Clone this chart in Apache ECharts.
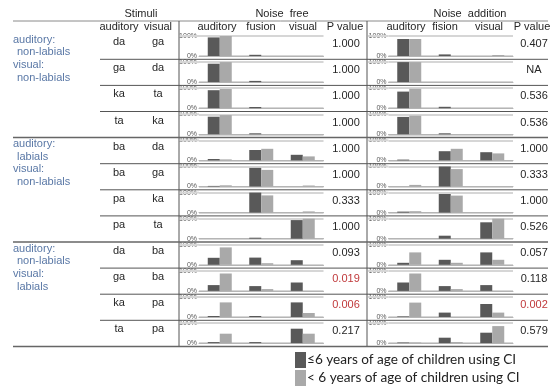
<!DOCTYPE html>
<html><head><meta charset="utf-8">
<script src="https://cdn.jsdelivr.net/npm/echarts@6/dist/echarts.min.js"></script>
<style>html,body{margin:0;padding:0;background:#fff}#chart{width:554px;height:389px}</style>
</head><body><div id="chart"></div>
<script>
// Response categories shown in every mini bar chart
const responseTypes = ['auditory', 'fusion', 'visual'];

// Stimulus pairs, one per table row
const stimulusAuditory = ['da', 'ga', 'ka', 'ta', 'ba', 'ba', 'pa', 'pa', 'da', 'ga', 'ka', 'ta'];
const stimulusVisual   = ['ga', 'da', 'ta', 'ka', 'da', 'ga', 'ka', 'ta', 'ba', 'ba', 'pa', 'pa'];

// Row-group captions (four rows per group)
const groupLabels = [
  ['auditory:', 'non-labials', 'visual:', 'non-labials'],
  ['auditory:', 'labials', 'visual:', 'non-labials'],
  ['auditory:', 'non-labials', 'visual:', 'labials']
];

const seriesNames = ['\u22646 years of age of children using CI', '< 6 years of age of children using CI'];

// Response rates (%) without noise: [auditory, fusion, visual] per row
const noiseFreeOlder = [
  [93, 6, 0], [92, 6, 0], [90, 6, 0], [88, 5, 0],
  [7, 52, 28], [3, 93, 0], [0, 100, 0], [0, 5, 93],
  [35, 36, 23], [29, 24, 42], [5, 5, 73], [5, 5, 72]
];
const noiseFreeYounger = [
  [100, 0, 0], [100, 0, 0], [96, 0, 0], [96, 0, 0],
  [5, 58, 20], [6, 83, 5], [0, 86, 6], [0, 0, 100],
  [87, 8, 0], [87, 9, 0], [73, 0, 20], [47, 0, 47]
];

// Response rates (%) with added noise
const noiseAddOlder = [
  [85, 8, 0], [100, 0, 0], [83, 7, 0], [87, 5, 0],
  [4, 46, 41], [0, 100, 0], [5, 93, 0], [0, 15, 82],
  [10, 25, 62], [42, 24, 29], [3, 22, 65], [3, 27, 52]
];
const noiseAddYounger = [
  [85, 0, 5], [100, 0, 0], [97, 0, 0], [93, 0, 0],
  [0, 58, 35], [8, 87, 0], [7, 85, 0], [0, 0, 100],
  [62, 10, 25], [87, 9, 0], [72, 0, 22], [3, 5, 85]
];

// P values per row
const pNoiseFree     = ['1.000', '1.000', '1.000', '1.000', '1.000', '1.000', '0.333', '1.000', '0.093', '0.019', '0.006', '0.217'];
const pNoiseAddition = ['0.407', 'NA', '0.536', '0.536', '1.000', '0.333', '1.000', '0.526', '0.057', '0.118', '0.002', '0.579'];

// ---- layout ----
const FONT = '"Liberation Sans", Arial, sans-serif';
const TEXT_COLOR = '#262626';
const GROUP_COLOR = '#5a78a6';
const SIG_COLOR = '#c0393b';
const DARK = '#595959', LIGHT = '#a9a9a9';

const HEAD_LINE_Y = 21, HEADER_BOTTOM = 33.2, ROW_H = 26.1;
const TABLE_L = 13, TABLE_R = 548, INNER_L = 100;
const DIVIDERS = [179, 367];
const PLOT_W = 124.5, PLOT_H = 20, PLOT_OFFSET = 2.8;
const panels = [
  { plotLeft: 199, pX: 346, older: noiseFreeOlder, younger: noiseFreeYounger, p: pNoiseFree },
  { plotLeft: 388.5, pX: 534, older: noiseAddOlder, younger: noiseAddYounger, p: pNoiseAddition }
];

const rowTop = i => HEADER_BOTTOM + ROW_H * i;

const grids = [], xAxes = [], yAxes = [], series = [], graphics = [];

const txt = (text, x, y, opts = {}) => graphics.push({
  type: 'text', silent: true, z: 10,
  style: Object.assign({
    text, x, y, font: '11px ' + FONT, fill: TEXT_COLOR,
    textAlign: 'center', textVerticalAlign: 'middle'
  }, opts)
});
const line = (x1, y1, x2, y2, stroke, lineWidth) => graphics.push({
  type: 'line', silent: true, z: 5,
  shape: { x1, y1, x2, y2 }, style: { stroke, lineWidth }
});

panels.forEach((panel, p) => {
  for (let i = 0; i < stimulusAuditory.length; i++) {
    const idx = grids.length;
    const top = rowTop(i) + PLOT_OFFSET;
    grids.push({ left: panel.plotLeft, top, width: PLOT_W, height: PLOT_H });
    xAxes.push({
      type: 'category', gridIndex: idx, data: responseTypes,
      axisLine: { lineStyle: { color: '#b5b5b5', width: 1 } },
      axisTick: { show: false }, axisLabel: { show: false }
    });
    yAxes.push({
      type: 'value', gridIndex: idx, min: 0, max: 100, interval: 100,
      axisLine: { show: false }, axisTick: { show: false },
      axisLabel: { formatter: '{value}%', fontSize: 7, color: '#595959', margin: 2, fontFamily: FONT },
      splitLine: { lineStyle: { color: '#d6d6d6', width: 2 } }
    });
    // top grid line continues to the column divider under the 100% label
    line(DIVIDERS[p] + 1, top, panel.plotLeft, top, '#d6d6d6', 2);
    [panel.older[i], panel.younger[i]].forEach((vals, k) => {
      series.push({
        type: 'bar', name: seriesNames[k], xAxisIndex: idx, yAxisIndex: idx,
        data: vals, barWidth: 12, barGap: '0%',
        itemStyle: { color: k === 0 ? DARK : LIGHT }, silent: true
      });
    });
    const pv = panel.p[i];
    const sig = pv !== 'NA' && parseFloat(pv) < 0.05;
    txt(pv, panel.pX, rowTop(i) + 11, { fill: sig ? SIG_COLOR : TEXT_COLOR });
  }
});

// headers
txt('Stimuli', 141, 14);
txt('Noise  free', 282, 14);
txt('Noise  addition', 470, 14);
[['auditory', 119], ['visual', 158], ['auditory', 217], ['fusion', 261], ['visual', 303], ['P value', 345],
 ['auditory', 406], ['fision', 445], ['visual', 489], ['P value', 532]]
  .forEach(([t, x]) => txt(t, x, 27));

// stimulus columns
stimulusAuditory.forEach((s, i) => {
  txt(s, 119, rowTop(i) + 9);
  txt(stimulusVisual[i], 158, rowTop(i) + 9);
});

// group captions
const captionOffsets = [6.5, 19, 31.5, 44.5];
const captionIndent = [0, 4, 0, 4];
groupLabels.forEach((lines, g) => {
  lines.forEach((t, j) => {
    txt(t, TABLE_L + captionIndent[j], rowTop(g * 4) + captionOffsets[j], { fill: GROUP_COLOR, textAlign: 'left' });
  });
});

// table rules
line(TABLE_L, HEAD_LINE_Y, TABLE_R, HEAD_LINE_Y, '#8a8a8a', 1);
DIVIDERS.forEach(x => line(x, HEAD_LINE_Y, x, rowTop(12), '#555', 1));
for (let i = 0; i < 12; i++) {
  const y = rowTop(i + 1);
  if ((i + 1) % 4 === 0) line(TABLE_L, y, TABLE_R, y, '#666', 1.5);
  else line(INNER_L, y, TABLE_R, y, '#555', 1);
}

// one legend entry per line, stacked
const legendBase = {
  left: 295, padding: 0, itemWidth: 11, itemHeight: 16, icon: 'rect', selectedMode: false,
  textStyle: { fontFamily: 'Lato, "Open Sans", sans-serif', fontSize: 13.6, color: '#222', padding: [0, 0, 0, -4] }
};

const chart = echarts.init(document.getElementById('chart'), null, { renderer: 'canvas' });
chart.setOption({
  animation: false,
  backgroundColor: '#fff',
  grid: grids, xAxis: xAxes, yAxis: yAxes, series,
  legend: [
    Object.assign({ data: [seriesNames[0]], top: 352 }, legendBase),
    Object.assign({ data: [seriesNames[1]], top: 370 }, legendBase)
  ],
  graphic: graphics
});
</script></body></html>
